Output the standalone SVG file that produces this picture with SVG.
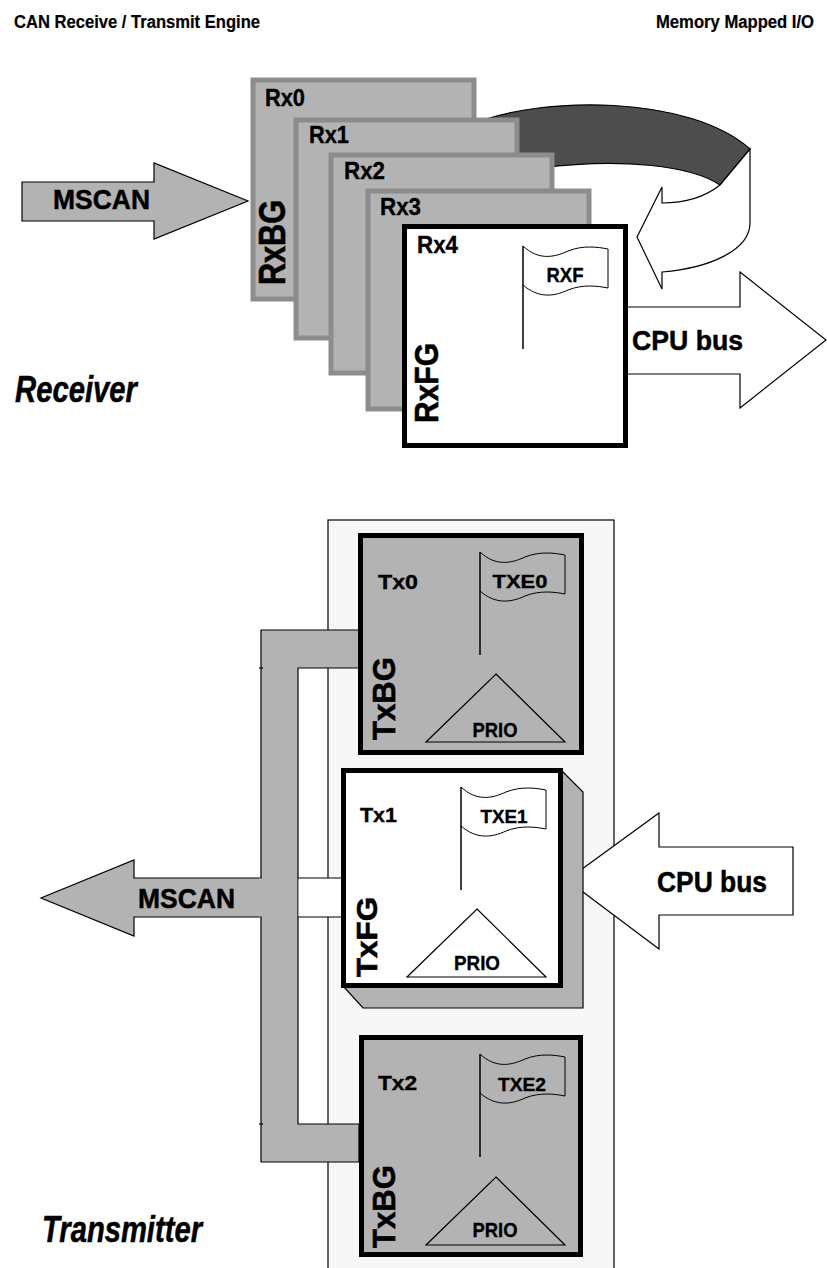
<svg xmlns="http://www.w3.org/2000/svg" xmlns:xlink="http://www.w3.org/1999/xlink" width="827" height="1268" viewBox="0 0 827 1268">
<style>
text{font-family:"Liberation Sans",Arial,sans-serif;font-weight:bold;fill:#000;stroke:#000;stroke-width:0.35}
.rx{fill:#b3b3b3;stroke:#8c8c8c;stroke-width:5}
.box{stroke:#000;stroke-width:5}
.g{fill:#b3b3b3}
.w{fill:#fff}
.thin{stroke:#000;stroke-width:1.2}
.lbl{font-size:23px}
.tl{font-size:20px}
.big{font-size:28px;stroke-width:0.5}
.fl{font-size:18px}
.pr{font-size:20px}
.it{font-style:italic;font-size:36px;stroke-width:0.5}
.hd{font-size:18px;stroke-width:0.2}
.rot{stroke-width:0.6}
</style>
<defs>
<g id="flag">
<path d="M0,0 C15,14 30,12 45,5 C60,-1 75,1 85,3 L85,42 C75,40 60,38 45,44 C30,51 15,52 0,39" fill="none" stroke="#000" stroke-width="1"/>
<line x1="0" y1="0" x2="0" y2="103" stroke="#000" stroke-width="1.5"/>
</g>
<path id="tri" d="M0,0 L69,68 L-70,68 Z" fill="none" stroke="#000" stroke-width="1.2"/>
</defs>

<g id="header">
<text class="hd" x="14" y="28" textLength="246" lengthAdjust="spacingAndGlyphs">CAN Receive / Transmit Engine</text>
<text class="hd" x="656" y="28" textLength="158" lengthAdjust="spacingAndGlyphs">Memory Mapped I/O</text>
</g>

<g id="connectors">
<path d="M470,125 C540,95 690,95 750,149 L720,185 C690,165 620,158 540,168 L470,170 Z" fill="#4d4d4d" stroke="#000" stroke-width="1.2"/>
<path d="M750,149 L750,223 C750,250 710,268 662,272 L662,289 L637,237 L662,187 L662,203 C685,203 705,197 720,185 Z" fill="#fff" stroke="#000" stroke-width="1.2"/>
<path d="M22,182 L154,182 L154,163 L248,201 L154,239 L154,221 L22,221 Z" class="g thin"/>
<path d="M626,307 L740,307 L740,272 L826,340 L740,408 L740,374 L626,374" class="w thin"/>
</g>

<g id="rx0"><rect x="253" y="80" width="221" height="219" class="rx"/><text class="lbl" x="265" y="106" textLength="40" lengthAdjust="spacingAndGlyphs">Rx0</text>
<text class="rot" style="font-size:36px" transform="translate(285,285) rotate(-90)" textLength="85" lengthAdjust="spacingAndGlyphs">RxBG</text></g>
<g id="rx1"><rect x="296" y="120" width="221" height="218" class="rx"/><text class="lbl" x="309" y="143" textLength="40" lengthAdjust="spacingAndGlyphs">Rx1</text></g>
<g id="rx2"><rect x="331" y="155" width="221" height="218" class="rx"/><text class="lbl" x="344" y="179" textLength="41" lengthAdjust="spacingAndGlyphs">Rx2</text></g>
<g id="rx3"><rect x="368" y="191" width="221" height="218" class="rx"/><text class="lbl" x="380" y="215" textLength="41" lengthAdjust="spacingAndGlyphs">Rx3</text></g>
<g id="rx4"><rect x="404.5" y="226.5" width="221" height="219" class="box w"/><text class="lbl" x="417" y="253" textLength="41" lengthAdjust="spacingAndGlyphs">Rx4</text>
<text class="rot" style="font-size:34px" transform="translate(438,423) rotate(-90)" textLength="80" lengthAdjust="spacingAndGlyphs">RxFG</text>
<use xlink:href="#flag" href="#flag" x="523" y="246"/>
<text style="font-size:21px" x="565" y="282" text-anchor="middle" textLength="37" lengthAdjust="spacingAndGlyphs">RXF</text></g>

<g id="rx-labels">
<text class="big" x="53" y="209" textLength="97" lengthAdjust="spacingAndGlyphs">MSCAN</text>
<text class="big" x="632" y="350" textLength="111" lengthAdjust="spacingAndGlyphs">CPU bus</text>
<text class="it" x="15" y="402" textLength="122" lengthAdjust="spacingAndGlyphs">Receiver</text>
</g>

<g id="panel"><rect x="328" y="520" width="286" height="760" fill="#f7f7f7" stroke="#000" stroke-width="1.2"/></g>

<g id="tx-connectors">
<path d="M261,630 L359,630 L359,668 L298,668 L298,1124 L359,1124 L359,1162 L261,1162 Z" class="g thin"/>
<path d="M261,878 L134,878 L134,860 L41,898 L134,936 L134,917 L261,917" class="g thin"/>
<rect x="259" y="878.6" width="4" height="37.8" class="g"/>
<rect x="298.6" y="878" width="42" height="39" class="w"/>
<line x1="298" y1="878" x2="342" y2="878" stroke="#000" stroke-width="1.2"/>
<line x1="298" y1="917" x2="342" y2="917" stroke="#000" stroke-width="1.2"/>
<line x1="259" y1="668" x2="263" y2="668" stroke="#000" stroke-width="1.2"/>
<line x1="259" y1="1124" x2="263" y2="1124" stroke="#000" stroke-width="1.2"/>
<path d="M793,847 L659,847 L659,813 L567,880 L659,949 L659,915 L793,915 Z" class="w thin"/>
</g>

<g id="tx0"><rect x="360.5" y="535.5" width="221" height="217" class="box g"/>
<text class="tl" x="378" y="589" textLength="40" lengthAdjust="spacingAndGlyphs">Tx0</text>
<use xlink:href="#flag" href="#flag" x="480" y="552"/>
<text class="fl" x="520" y="588" text-anchor="middle" textLength="55" lengthAdjust="spacingAndGlyphs">TXE0</text>
<use xlink:href="#tri" href="#tri" x="496" y="674"/>
<text class="pr" x="495" y="737" text-anchor="middle" textLength="45" lengthAdjust="spacingAndGlyphs">PRIO</text>
<text class="rot" style="font-size:32px" transform="translate(395,740) rotate(-90)" textLength="83" lengthAdjust="spacingAndGlyphs">TxBG</text></g>

<g id="tx1"><path d="M561,770 L583,792 L583,1008 L363,1008 L343,986 Z" class="g thin"/>
<rect x="343.5" y="770.5" width="217" height="215" class="box w"/>
<text class="tl" x="360" y="822" textLength="37" lengthAdjust="spacingAndGlyphs">Tx1</text>
<use xlink:href="#flag" href="#flag" x="461" y="787"/>
<text class="fl" x="504" y="823" text-anchor="middle" textLength="47" lengthAdjust="spacingAndGlyphs">TXE1</text>
<use xlink:href="#tri" href="#tri" x="477" y="909"/>
<text class="pr" x="477" y="970" text-anchor="middle" textLength="46" lengthAdjust="spacingAndGlyphs">PRIO</text>
<text class="rot" style="font-size:30px" transform="translate(377,977) rotate(-90)" textLength="80" lengthAdjust="spacingAndGlyphs">TxFG</text></g>

<g id="tx2"><rect x="361.5" y="1037.5" width="219" height="217" class="box g"/>
<text class="tl" x="378" y="1090" textLength="39" lengthAdjust="spacingAndGlyphs">Tx2</text>
<use xlink:href="#flag" href="#flag" x="480" y="1054"/>
<text class="fl" x="522" y="1091" text-anchor="middle" textLength="48" lengthAdjust="spacingAndGlyphs">TXE2</text>
<use xlink:href="#tri" href="#tri" x="496" y="1177"/>
<text class="pr" x="495" y="1237" text-anchor="middle" textLength="45" lengthAdjust="spacingAndGlyphs">PRIO</text>
<text class="rot" style="font-size:32px" transform="translate(395,1248) rotate(-90)" textLength="83" lengthAdjust="spacingAndGlyphs">TxBG</text></g>

<g id="tx-labels">
<text class="big" x="138" y="908" textLength="97" lengthAdjust="spacingAndGlyphs">MSCAN</text>
<text class="big" style="font-size:29px" x="657" y="892" textLength="110" lengthAdjust="spacingAndGlyphs">CPU bus</text>
<text class="it" x="42" y="1242" textLength="160" lengthAdjust="spacingAndGlyphs">Transmitter</text>
</g>
</svg>
